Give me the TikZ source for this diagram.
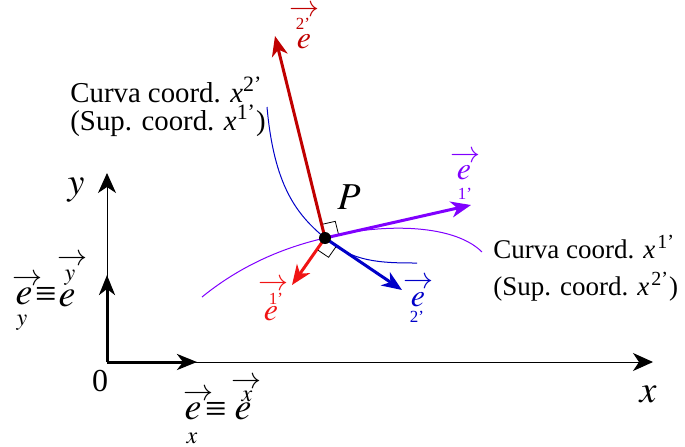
\documentclass[tikz,border=0pt]{standalone}
\usepackage{amsmath}
\usepackage{mathptmx}
\usepackage[no-math]{fontspec}
\setmainfont{Liberation Serif}
\usetikzlibrary{arrows.meta}
\usetikzlibrary{calc}

\definecolor{darkred}{RGB}{192,0,0}
\definecolor{brightred}{RGB}{240,20,20}
\definecolor{violet1}{RGB}{128,0,255}
\definecolor{blue1}{RGB}{0,0,200}

\tikzset{
  axis/.style={-{Stealth[length=10pt,width=9pt,inset=3pt]}, line width=0.5pt},
  basis/.style={-{Stealth[length=10pt,width=8pt,inset=3pt]}, line width=1.5pt},
  evec/.style={-{Stealth[length=10pt,width=8pt,inset=3pt]}, line width=1.5pt},
  curve/.style={line width=0.5pt},
  rangle/.style={line width=0.4pt, black},
  big/.style={font=\fontsize{19}{21}\selectfont},
  ebig/.style={font=\fontsize{19}{21}\selectfont, inner sep=0pt},
  esmall/.style={font=\fontsize{16}{18}\selectfont, inner sep=0pt},
  arr/.style={font=\fontsize{15}{15}\selectfont, inner sep=0pt},
  idx/.style={font=\fontsize{12}{13}\selectfont, inner sep=0pt},
  prm/.style={font=\fontsize{8.5}{9}\selectfont, inner sep=0pt},
  curvelab/.style={anchor=base west, inner sep=0pt, font=\fontsize{14.4}{17.5}\selectfont}
}

\begin{document}
\begin{tikzpicture}[x=0.5pt,y=-0.5pt]
    \useasboundingbox (0,0) rectangle (685,446);

    % cartesian axes
    \coordinate (O) at (107,362);
    \coordinate (xend) at (653,362);
    \coordinate (yend) at (107,173);
    \coordinate (ex) at (197,362);
    \coordinate (ey) at (107,275);
    \path [axis] (O) edge (xend);
    \path [axis] (O) edge (yend);
    \path [basis] (O) edge (ex);
    \path [basis] (O) edge (ey);

    \node[big] (xlab) at (648,394) {$x$};
    \node[big] (ylab) at (76,190) {$y$};
    \node[font=\fontsize{16}{18}\selectfont] (zero) at (100,381) {0};

    % e_x = e^x
    \node[ebig] (exl) at (193,411) {$e$};
    \node[arr] (exlarr) at (198,395) {$\rightarrow$};
    \node[idx] (exlsub) at (192,438) {$x$};
    \node[ebig] (exid) at (216,412) {≡};
    \node[ebig] (exr) at (243,411) {$e$};
    \node[idx] (exrsup) at (247,396) {$x$};
    \node[arr] (exrarr) at (246,383) {$\rightarrow$};
    % e_y = e^y
    \node[ebig] (eyl) at (24,296) {$e$};
    \node[arr] (eylarr) at (27,280) {$\rightarrow$};
    \node[idx] (eylsub) at (22,323) {$y$};
    \node[ebig] (eyid) at (46,297) {≡};
    \node[ebig] (eyr) at (67,298) {$e$};
    \node[idx] (eyrsup) at (70,278) {$y$};
    \node[arr] (eyrarr) at (72,260) {$\rightarrow$};

    % point P and coordinate curves
    \coordinate (P0) at (325,238);
    \draw[blue1, curve] (267,107) .. controls (274,185) and (296,214) .. (P0)
        .. controls (352,262) and (380,263) .. (417,263);
    \draw[violet1, curve] (202,297) .. controls (245,262) and (290,246) .. (P0)
        .. controls (375,224) and (452,222) .. (482,252);

    % local basis
    \coordinate (e2up) at (275,36);
    \coordinate (e1up) at (471,205);
    \coordinate (e1dn) at (292,285);
    \coordinate (e2dn) at (402,290);

    \coordinate (a1) at ($(P0)!7pt!(e2up)$);
    \coordinate (b1) at ($(P0)!7pt!(e1up)$);
    \draw[rangle] (a1) -- ($(a1)+(b1)-(P0)$) -- (b1);
    \coordinate (a2) at ($(P0)!7pt!(e1dn)$);
    \coordinate (b2) at ($(P0)!7pt!(e2dn)$);
    \draw[rangle] (a2) -- ($(a2)+(b2)-(P0)$) -- (b2);

    \path [evec, darkred](P0) edge (e2up);
    \path [evec, violet1](P0) edge (e1up);
    \path [evec, brightred](P0) edge (e1dn);
    \path [evec, blue1](P0) edge (e2dn);
    \node[shape=circle, fill=black, inner sep=0pt, minimum size=6pt] (P) at (P0) {};
    \node[big] (Plab) at (349,197) {$P$};

    % labels of the local basis
    \begin{scope}[darkred]
    \node[arr] (e2uparr) at (304,11) {$\rightarrow$};
    \node[prm] (e2upidx) at (303,24) {2’};
    \node[esmall] (e2uplab) at (304,42) {$e$};
    \end{scope}
    \begin{scope}[violet1]
    \node[arr] (e1uparr) at (465,157) {$\rightarrow$};
    \node[esmall] (e1uplab) at (464,173) {$e$};
    \node[prm] (e1upidx) at (465,194) {1’};
    \end{scope}
    \begin{scope}[brightred]
    \node[arr] (e1dnarr) at (273,285) {$\rightarrow$};
    \node[prm] (e1dnidx) at (276,299) {1’};
    \node[esmall] (e1dnlab) at (271,314) {$e$};
    \end{scope}
    \begin{scope}[blue1]
    \node[arr] (e2dnarr) at (418,283) {$\rightarrow$};
    \node[esmall] (e2dnlab) at (418,300) {$e$};
    \node[prm] (e2dnidx) at (417,317) {2’};
    \end{scope}

    % curve labels
    \node[curvelab] (c2a) at (70,102) {Curva coord. \textit{x}\textsuperscript{2’}};
    \node[curvelab] (c2b) at (70,130) {(Sup. coord. \textit{x}\textsuperscript{1’})};
    \node[curvelab, font=\fontsize{13.5}{17}\selectfont] (c1a) at (493,258) {Curva coord. \textit{x}\kern1pt\textsuperscript{1’}};
    \node[curvelab, font=\fontsize{13.5}{17}\selectfont] (c1b) at (493,295) {(Sup. coord. \textit{x}\kern1pt\textsuperscript{2’})};
\end{tikzpicture}
\end{document}
